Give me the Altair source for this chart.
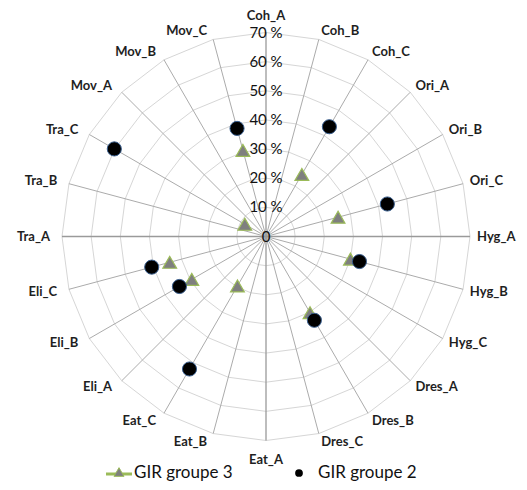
import math
import altair as alt
import pandas as pd

categories = ["Coh_A", "Coh_B", "Coh_C", "Ori_A", "Ori_B", "Ori_C",
              "Hyg_A", "Hyg_B", "Hyg_C", "Dres_A", "Dres_B", "Dres_C",
              "Eat_A", "Eat_B", "Eat_C", "Eli_A", "Eli_B", "Eli_C",
              "Tra_A", "Tra_B", "Tra_C", "Mov_A", "Mov_B", "Mov_C"]

# values (%); None = no marker
gir3 = [None, None, 24.6, None, None, 25.6, None, 30.0, None, None, 30.2, None,
        None, None, 19.6, None, 29.4, 34.2, None, None, 8.4, None, None, 30.6]
gir2 = [None, None, 43.5, None, None, 43.1, None, 33.2, None, None, 33.2, None,
        None, None, 52.5, None, 34.3, 40.6, None, None, 60.1, None, None, 38.4]

ring_values = [10, 20, 30, 40, 50, 60, 70]
tick_labels = ["0", "10 %", "20 %", "30 %", "40 %", "50 %", "60 %", "70 %"]
series_names = ["GIR groupe 3", "GIR groupe 2"]

# ---- layout (pixels) ----
W, H = 510, 474
CX, CY = 258, 228.5
R_PX = 204
RMAX = 70
K = R_PX / RMAX
xdom = [-CX / K, (W - CX) / K]
ydom = [-(H - CY) / K, CY / K]

FONT = "Lato"
n = len(categories)
ang = [2 * math.pi * i / n for i in range(n)]

xs = alt.Scale(domain=xdom, nice=False, zero=False)
ys = alt.Scale(domain=ydom, nice=False, zero=False)

# rings
ring_rows = []
for v in ring_values:
    for j in range(n + 1):
        a = ang[j % n]
        ring_rows.append({"ring": v, "ord": j, "x": v * math.sin(a), "y": v * math.cos(a)})
rings = alt.Chart(pd.DataFrame(ring_rows)).mark_line(color="#d6d6d6", strokeWidth=1).encode(
    x=alt.X("x:Q", scale=xs, axis=None),
    y=alt.Y("y:Q", scale=ys, axis=None),
    detail="ring:N",
    order="ord:Q",
)

# spokes
spoke_rows = [{"cat": c, "x0": 0.0, "y0": 0.0,
               "x": RMAX * math.sin(a), "y": RMAX * math.cos(a),
               "main": (i % 6 == 0)} for i, (c, a) in enumerate(zip(categories, ang))]
sdf = pd.DataFrame(spoke_rows)
spokes = alt.Chart(sdf[~sdf["main"]]).mark_rule(color="#ababab", strokeWidth=1).encode(
    x=alt.X("x0:Q", scale=xs, axis=None), y=alt.Y("y0:Q", scale=ys, axis=None),
    x2="x:Q", y2="y:Q")
main_spokes = alt.Chart(sdf[sdf["main"]]).mark_rule(color="#9a9a9a", strokeWidth=1.3).encode(
    x=alt.X("x0:Q", scale=xs, axis=None), y=alt.Y("y0:Q", scale=ys, axis=None),
    x2="x:Q", y2="y:Q")

# tick labels along vertical axis
tdf = pd.DataFrame({"v": [0] + ring_values, "t": tick_labels, "x": [0.0] * len(tick_labels)})
ticks = alt.Chart(tdf).mark_text(font=FONT, fontSize=15, color="#111111",
                                 align="center", baseline="middle").encode(
    x=alt.X("x:Q", scale=xs, axis=None), y=alt.Y("v:Q", scale=ys, axis=None), text="t:N")

# category labels
lab_rows = []
for c, a in zip(categories, ang):
    s, co = math.sin(a), math.cos(a)
    ex, ey = RMAX * s, RMAX * co
    if abs(s) < 0.05:
        al = "center"
        lx = ex
        ly = ey + (16.5 / K if co > 0 else -19 / K)
    elif s > 0:
        al = "left"
        lx = ex + (1 + 6 * abs(s)) / K
        ly = ey + 9 * co / K
    else:
        al = "right"
        lx = ex - (4 + 8 * abs(s)) / K
        ly = ey + 9 * co / K
    lab_rows.append({"cat": c, "x": lx, "y": ly, "al": al})
ldf = pd.DataFrame(lab_rows)
label_layers = []
for al in ["left", "center", "right"]:
    label_layers.append(
        alt.Chart(ldf[ldf["al"] == al]).mark_text(
            font=FONT, fontSize=13, fontWeight="bold", color="#1f1f1f",
            align=al, baseline="middle").encode(
            x=alt.X("x:Q", scale=xs, axis=None), y=alt.Y("y:Q", scale=ys, axis=None),
            text="cat:N"))

# data points
def pts(vals, name):
    rows = []
    for c, a, v in zip(categories, ang, vals):
        if v is None:
            continue
        rows.append({"cat": c, "series": name, "v": v,
                     "x": v * math.sin(a), "y": v * math.cos(a)})
    return pd.DataFrame(rows)

p3 = alt.Chart(pts(gir3, series_names[0])).mark_point(
    shape="triangle-up", size=190, filled=True, fill="#7f7f7f", stroke="#9bbb59",
    strokeWidth=1.2, opacity=1).encode(
    x=alt.X("x:Q", scale=xs, axis=None), y=alt.Y("y:Q", scale=ys, axis=None))
p2 = alt.Chart(pts(gir2, series_names[1])).mark_point(
    shape="circle", size=200, filled=True, fill="#000000", stroke="#3a5f8f",
    strokeWidth=1, opacity=1).encode(
    x=alt.X("x:Q", scale=xs, axis=None), y=alt.Y("y:Q", scale=ys, axis=None))

# manual legend
LY = 465
leg_line = alt.Chart(pd.DataFrame({"a": [0]})).mark_rule(color="#9bbb59", strokeWidth=3).encode(
    x=alt.value(98), x2=alt.value(124), y=alt.value(LY + 1))
leg_tri = alt.Chart(pd.DataFrame({"a": [0]})).mark_point(
    shape="triangle-up", size=100, filled=True, fill="#7f7f7f", stroke="#9bbb59",
    strokeWidth=1, opacity=1).encode(x=alt.value(111), y=alt.value(LY - 1))
leg_t3 = alt.Chart(pd.DataFrame({"t": [series_names[0]]})).mark_text(
    font=FONT, fontSize=17, color="#111111", align="left", baseline="middle").encode(
    x=alt.value(126), y=alt.value(LY), text="t:N")
leg_dot = alt.Chart(pd.DataFrame({"a": [0]})).mark_point(
    shape="circle", size=60, filled=True, fill="#000000", opacity=1).encode(
    x=alt.value(291), y=alt.value(LY))
leg_t2 = alt.Chart(pd.DataFrame({"t": [series_names[1]]})).mark_text(
    font=FONT, fontSize=17, color="#111111", align="left", baseline="middle").encode(
    x=alt.value(310), y=alt.value(LY), text="t:N")

chart = alt.layer(
    rings, spokes, main_spokes, ticks, *label_layers, p3, p2,
    leg_line, leg_tri, leg_t3, leg_dot, leg_t2
).properties(
    width=W, height=H, padding=0,
    autosize=alt.AutoSizeParams(type="none"),
    background="white",
).configure_view(strokeWidth=0)

chart.save("out.html", embed_options={"renderer": "svg", "actions": False})
